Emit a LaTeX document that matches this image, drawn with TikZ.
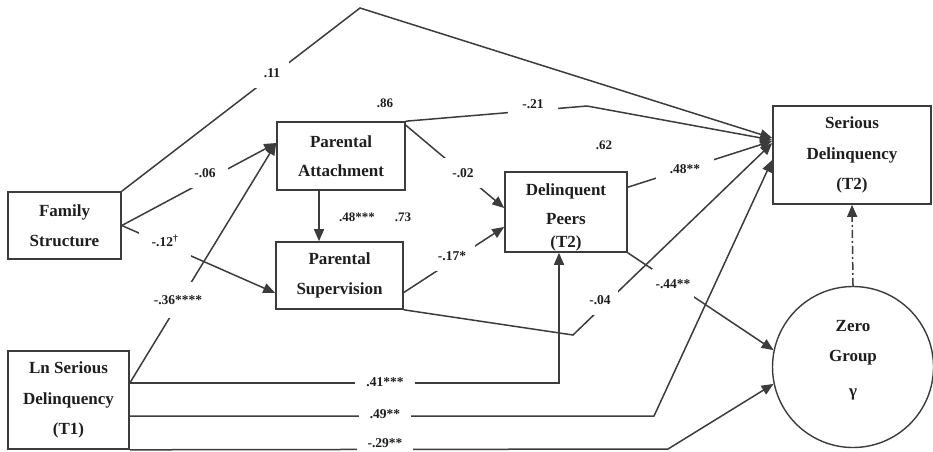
\documentclass[tikz,border=0pt]{standalone}
\usepackage{fontspec}
\setmainfont{Liberation Serif}
\usetikzlibrary{arrows.meta,calc}
\definecolor{ln}{HTML}{3C3C3C}
\definecolor{tx}{HTML}{1E1E1E}
\begin{document}
\begin{tikzpicture}[x=1pt,y=-1pt,
  box/.style={draw=ln,line width=1.6pt,rectangle,align=center,text=tx,
    font=\bfseries\fontsize{17}{30.5}\selectfont,inner sep=0pt},
  txt/.style={align=center,text=tx,font=\bfseries\fontsize{17}{30.5}\selectfont,inner sep=0pt},
  conn/.style={draw=ln,line width=1.5pt},
  arr/.style={conn,-{Triangle[length=12pt,width=10pt]}},
  lab/.style={font=\bfseries\fontsize{13.5}{14}\selectfont,text=tx,fill=white,inner xsep=9pt,inner ysep=10pt},
  var/.style={font=\bfseries\fontsize{13}{14}\selectfont,text=tx,inner sep=1pt}]
\useasboundingbox (0,0) rectangle (933,451);

% nodes
\node[box,minimum width=113pt,minimum height=67pt] (fs) at (64.5,225.5) {Family\\Structure};
\node[box,minimum width=128pt,minimum height=68pt,font=\bfseries\fontsize{17}{29}\selectfont] (pa) at (341,156) {Parental\\Attachment};
\node[box,minimum width=127pt,minimum height=67pt] (ps) at (339.5,275.5) {Parental\\Supervision};
\node[box,minimum width=122pt,minimum height=80pt] (dp) at (566,212) {};
\node[txt,font=\bfseries\fontsize{17}{29}\selectfont] (dpt) at (566,217) {Delinquent\\Peers\\[-6pt](T2)};
\node[box,minimum width=158pt,minimum height=98pt] (sd) at (852,155) {Serious\\Delinquency\\(T2)};
\node[box,circle,minimum size=161pt,line width=1.4pt] (zg) at (853,367) {};
\node[txt] (zgt) at (853,360) {Zero\\Group\\[4pt]γ};
\node[box,minimum width=121pt,minimum height=98pt] (lnsd) at (68.5,400) {Ln Serious\\Delinquency\\(T1)};

% bend points
\coordinate (top) at (360,8);
\coordinate (c21) at (587,106);
\coordinate (c04) at (573,335);
\coordinate (c41) at (559,383);
\coordinate (c49) at (654,416);
\coordinate (c29) at (668,449);

% connectors
\draw[arr] (fs.north east) -- (top) -- ($(sd.west)+(0,-17)$);
\draw[arr] (fs.east) -- ($(pa.west)+(0,-13)$);
\draw[arr] (fs.east) -- ($(ps.west)+(0,17.5)$);
\draw[arr] ($(lnsd.east)+(0,-17)$) -- ($(pa.west)+(0,-13)$);
\draw[arr] ([xshift=-22pt]pa.south) -- ([xshift=-22pt]pa.south |- ps.north);
\draw[arr] (pa.north east) -- (c21) -- ($(sd.west)+(0,-15)$);
\draw[arr] ($(pa.north east)+(0,4)$) -- ($(dp.west)+(0,-4)$);
\draw[arr] ($(ps.east)+(0,17)$) -- ($(dp.west)+(0,15)$);
\draw[arr] (ps.south east) -- (c04) -- ($(sd.west)+(0,-12)$);
\draw[arr] ($(dp.north east)+(0,16)$) -- ($(sd.west)+(0,-14)$);
\draw[arr] (dp.south east) -- (zg.168);
\draw[arr] ($(lnsd.east)+(0,-17)$) -- (c41) -- (c41 |- dp.south);
\draw[arr] ($(lnsd.east)+(0,16)$) -- (c49) -- ($(sd.west)+(0,5)$);
\draw[arr] (lnsd.south east) -- (c29) -- (zg.192);
\draw[arr,dash pattern=on 8pt off 3pt on 2pt off 3pt] (zg.north) -- (sd.south);

% path labels
\node[lab] (l11) at (272,73) {.11};
\node[lab,inner xsep=12pt] (l06) at (205,173) {-.06};
\node[lab,inner xsep=13pt] (l12) at (165,241) {-.12\textsuperscript{†}};
\node[lab,inner xsep=2pt,inner ysep=13pt] (l36) at (178,300) {-.36****};
\node[lab] (l02) at (463,173) {-.02};
\node[lab] (l17) at (452,256) {-.17*};
\node[lab,inner xsep=14pt] (l21) at (533,104) {-.21};
\node[lab,inner xsep=14pt] (l48b) at (685,169) {.48**};
\node[lab,inner xsep=7pt] (l04) at (600,300) {-.04};
\node[lab,inner xsep=4pt] (l44) at (673,284) {-.44**};
\node[lab,inner xsep=11pt] (l41) at (385,382) {.41***};
\node[lab,inner xsep=11pt] (l49) at (385,414) {.49**};
\node[lab,inner xsep=11pt,inner ysep=4pt] (l29) at (385,443) {-.29**};
\node[var] (l48) at (357,217) {.48***};
% variance labels
\node[var] (v86) at (385,103) {.86};
\node[var] (v73) at (403,217) {.73};
\node[var] (v62) at (604,145) {.62};
\end{tikzpicture}
\end{document}
